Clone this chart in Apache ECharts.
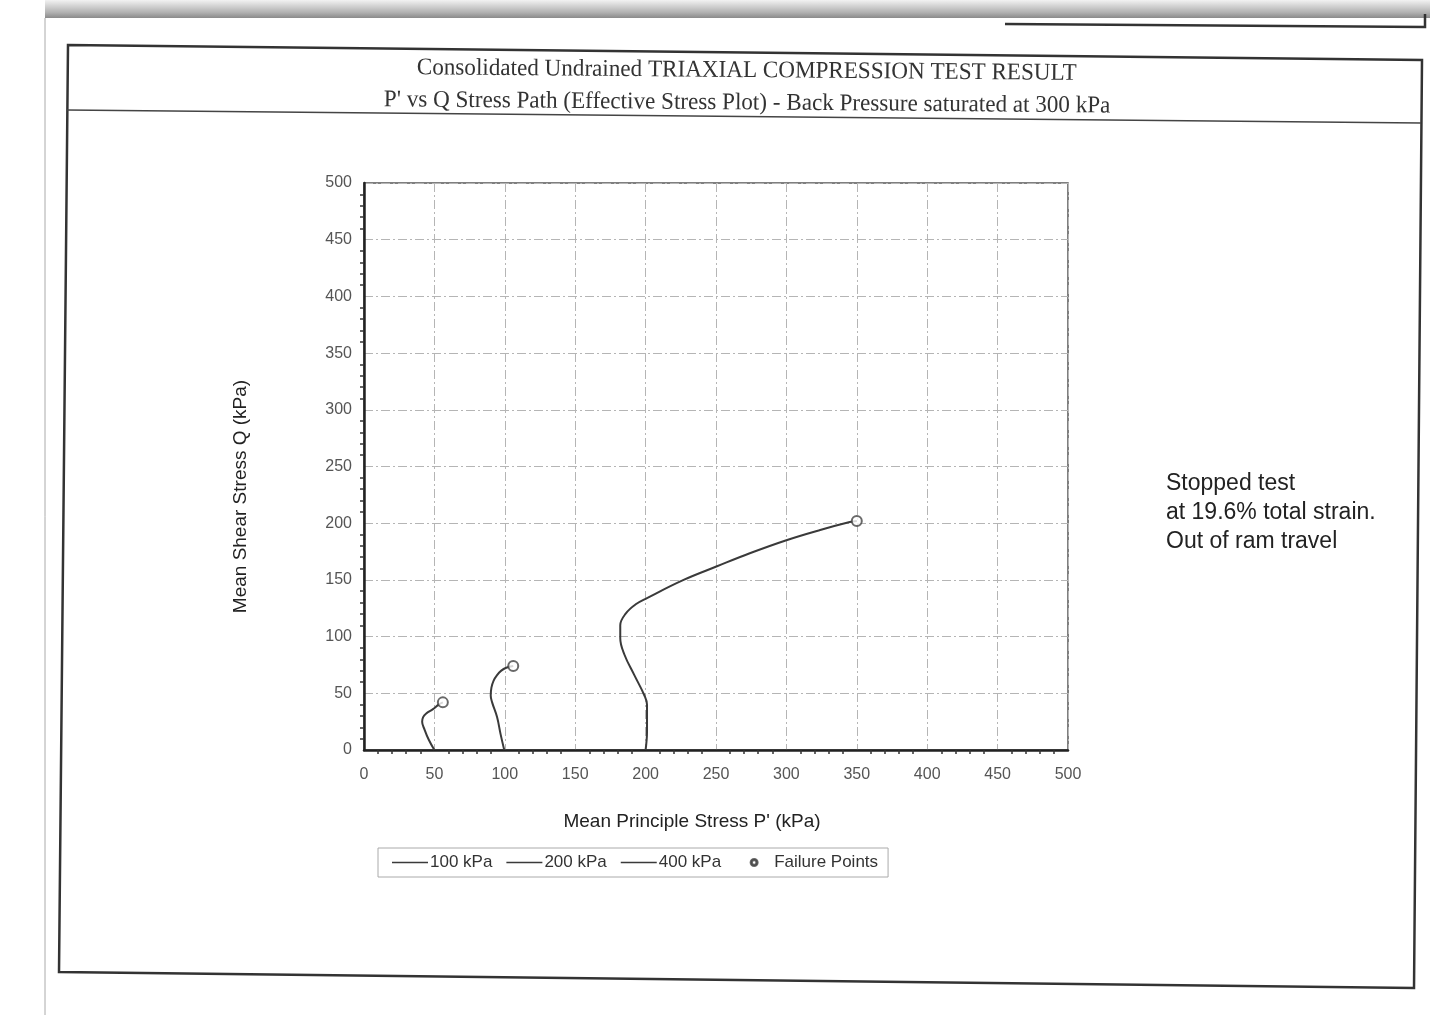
<!DOCTYPE html>
<html lang="en" style="height: 100%">

<head>
  <meta charset="utf-8">
  <style>
    html,
    body {
      margin: 0;
      padding: 0;
      width: 100%;
      height: 100%;
      overflow: hidden;
      background: #fff;
    }
  </style>
  <script type="text/javascript" src="https://cdn.jsdelivr.net/npm/echarts@6/dist/echarts.min.js"></script>
</head>

<body>
  <div id="container" style="height: 100%;width: 100%;"></div>

  <script type="text/javascript">
    // stress path points [P', Q]
    const path100 = [
      [50, 0], [46, 9], [43, 18], [41.3, 25], [42, 29], [44, 32], [49, 36], [53, 40], [56, 42]
    ];
    const path200 = [
      [99.6, 0], [97, 14], [94.5, 29], [91, 42], [90, 48], [90.5, 55], [92, 61], [94.5, 66], [97.5, 70], [101, 72.5], [106, 74]
    ];
    const path400 = [
      [200, 0], [201, 16], [201, 40], [199, 48.5], [192, 66], [185, 84], [182, 98.5], [182, 110],
      [186, 120.5], [193, 128.5], [201, 134], [227, 150], [250.7, 162], [274, 173.5], [300, 185],
      [324, 194], [345, 201], [350, 202]
    ];
    const failurePoints = [[56, 42], [106, 74], [350, 202]];
    const seriesNames = ['100 kPa', '200 kPa', '400 kPa', 'Failure Points'];

    const titleLines = [
      'Consolidated Undrained TRIAXIAL COMPRESSION TEST RESULT',
      "P' vs Q Stress Path (Effective Stress Plot) - Back Pressure saturated at 300 kPa"
    ];
    const noteLines = ['Stopped test', 'at 19.6% total strain.', 'Out of ram travel'];

    var dom = document.getElementById('container');
    var myChart = echarts.init(dom, null, { renderer: 'canvas' });

    const gridLine = {
      show: true,
      lineStyle: { color: '#b5b5b5', width: 1, type: [9, 3, 2, 3] }
    };
    // legend icons: thin line, and a small ring centred in the same box
    // (the bare moveTo points only widen the icon's box)
    const lineIcon = 'path://M0,0 L36,0 L36,1.6 L0,1.6 Z';
    const ringIcon = 'path://M0,0 M36,8 ' +
      'M21.5,4 A3.5,3.5 0 1 1 14.5,4 A3.5,3.5 0 1 1 21.5,4 Z ' +
      'M20.2,4 A2.2,2.2 0 1 0 15.8,4 A2.2,2.2 0 1 0 20.2,4 Z';

    function pathSeries(name, data) {
      return {
        name: name,
        type: 'line',
        data: data,
        smooth: 0.4,
        symbol: 'none',
        lineStyle: { color: '#3a3a3a', width: 2 },
        itemStyle: { color: '#3a3a3a' },
        z: 3
      };
    }

    var option = {
      backgroundColor: '#fff',
      animation: false,
      textStyle: { fontFamily: 'Liberation Sans, Arial, sans-serif' },
      grid: {
        left: 364, top: 183, width: 704, height: 567,
        show: true, borderColor: '#555', borderWidth: 1.5
      },
      legend: {
        left: 378, top: 848,
        data: [
          { name: seriesNames[0], icon: lineIcon },
          { name: seriesNames[1], icon: lineIcon },
          { name: seriesNames[2], icon: lineIcon },
          { name: seriesNames[3], icon: ringIcon }
        ],
        itemWidth: 36, itemHeight: 8, itemGap: 14,
        padding: [6, 10, 6, 14],
        borderColor: '#aaa', borderWidth: 1,
        textStyle: { fontSize: 17, color: '#333', padding: [0, 0, 0, -3] }
      },
      xAxis: {
        type: 'value', min: 0, max: 500, interval: 50,
        name: "Mean Principle Stress P' (kPa)",
        nameLocation: 'middle', nameGap: 62,
        nameTextStyle: { fontSize: 19, color: '#222', padding: [0, 48, 0, 0] },
        axisLine: { lineStyle: { color: '#222', width: 2.5 } },
        axisTick: { show: false },
        minorTick: { show: true, splitNumber: 5, length: 4, lineStyle: { color: '#333', width: 1.5 } },
        axisLabel: { fontSize: 16, color: '#555', margin: 17 },
        splitLine: gridLine
      },
      yAxis: {
        type: 'value', min: 0, max: 500, interval: 50,
        name: 'Mean Shear Stress Q (kPa)',
        nameLocation: 'middle', nameGap: 114,
        nameTextStyle: { fontSize: 19, color: '#222', padding: [0, 60, 0, 0] },
        axisLine: { lineStyle: { color: '#222', width: 2.5 } },
        axisTick: { show: false },
        minorTick: { show: true, splitNumber: 5, length: 4, lineStyle: { color: '#333', width: 1.5 } },
        axisLabel: { fontSize: 16, color: '#555', margin: 12 },
        splitLine: gridLine
      },
      series: [
        pathSeries(seriesNames[0], path100),
        pathSeries(seriesNames[1], path200),
        pathSeries(seriesNames[2], path400),
        {
          name: seriesNames[3],
          type: 'scatter',
          data: failurePoints,
          symbol: 'emptyCircle',
          symbolSize: 10,
          itemStyle: { color: '#444', borderColor: '#444', borderWidth: 1.5 },
          z: 4
        }
      ],
      graphic: [
        // scan shadow at top of page
        {
          type: 'rect', left: 45, top: 0, z: 0,
          shape: { width: 1385, height: 18 },
          style: {
            fill: new echarts.graphic.LinearGradient(0, 0, 0, 1, [
              { offset: 0, color: '#f2f2f2' },
              { offset: 0.7, color: '#b0b0b0' },
              { offset: 1, color: '#8a8a8a' }
            ])
          }
        },
        {
          type: 'line', z: 0,
          shape: { x1: 45, y1: 18, x2: 45, y2: 1015 },
          style: { stroke: '#aaa', lineWidth: 1 }
        },
        // top right box fragment
        {
          type: 'polyline', z: 1,
          shape: { points: [[1005, 24], [1425, 27], [1425, 14]] },
          style: { stroke: '#333', lineWidth: 2.5, fill: null }
        },
        // outer frame
        {
          type: 'polygon', z: 1,
          shape: { points: [[68, 45], [1422, 60], [1414, 988], [59, 972]] },
          style: { stroke: '#333', lineWidth: 2.5, fill: null }
        },
        {
          type: 'line', z: 1,
          shape: { x1: 67, y1: 110, x2: 1421, y2: 123 },
          style: { stroke: '#444', lineWidth: 1.5 }
        },
        {
          type: 'text', x: 417, y: 56, z: 2, rotation: -0.0085, scaleX: 0.963,
          style: {
            text: titleLines[0],
            font: '24px "Liberation Serif", serif', fill: '#333'
          }
        },
        {
          type: 'text', x: 384, y: 88, z: 2, rotation: -0.0085, scaleX: 0.963,
          style: {
            text: titleLines[1],
            font: '24px "Liberation Serif", serif', fill: '#333'
          }
        },
        {
          type: 'text', x: 1166, y: 469, z: 2,
          style: {
            text: noteLines.join('\n'),
            font: '23px "Liberation Sans", Arial, sans-serif',
            lineHeight: 29, fill: '#222'
          }
        }
      ]
    };

    myChart.setOption(option);
    window.addEventListener('resize', myChart.resize);
  </script>
</body>

</html>
